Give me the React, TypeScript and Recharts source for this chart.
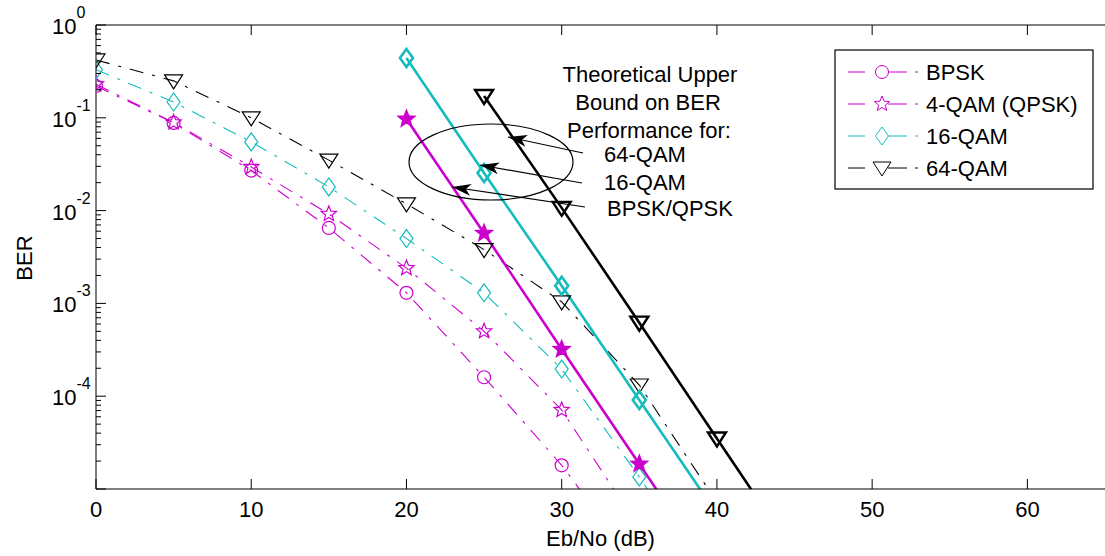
import React from "react"
import { LineChart, Line, XAxis, YAxis } from "recharts"

// Eb/No grid (dB)
const ebno = [0, 5, 10, 15, 20, 25, 30, 35, 40, 45]

// simulated BER (dash-dot with hollow markers)
const bpskSim = [0.22, 0.088, 0.027, 0.0065, 0.0013, 1.6e-4, 1.8e-5, 1.4e-6, null, null]
const qpskSim = [0.23, 0.089, 0.0295, 0.0092, 0.0024, 5.0e-4, 7.1e-5, 3.8e-6, null, null]
const qam16Sim = [0.33, 0.148, 0.055, 0.018, 0.005, 0.0013, 1.96e-4, 1.35e-5, 7e-7, null]
const qam64Sim = [0.42, 0.25, 0.1, 0.035, 0.0118, 0.0038, 0.00104, 1.32e-4, 7.2e-6, null]

// theoretical upper bounds (solid)
const bpskQpskBound = [null, null, null, null, 0.097, 0.0057, 3.2e-4, 1.86e-5, 1.07e-6, null]
const qam16Bound = [null, null, null, null, 0.44, 0.0254, 0.00155, 9.1e-5, 5.4e-6, null]
const qam64Bound = [null, null, null, null, null, 0.172, 0.0107, 6.2e-4, 3.5e-5, 2.0e-6]

const xTicks = [0, 10, 20, 30, 40, 50, 60]
const yDecades = [1e-5, 1e-4, 1e-3, 1e-2, 1e-1, 1]
const yTicks: number[] = []
yDecades.forEach((d, i) => {
  if (i === yDecades.length - 1) yTicks.push(d)
  else for (let k = 1; k <= 9; k++) yTicks.push(k * d)
})

const data = ebno.map((x, i) => ({
  ebno: x,
  bpskSim: bpskSim[i],
  qpskSim: qpskSim[i],
  qam16Sim: qam16Sim[i],
  qam64Sim: qam64Sim[i],
  bpskQpskBound: bpskQpskBound[i],
  qam16Bound: qam16Bound[i],
  qam64Bound: qam64Bound[i],
}))

const MAGENTA = "#cc00cc"
const CYAN = "#14bcbc"
const BLACK = "#000000"
const FONT = "'Liberation Sans', Arial, sans-serif"
const DASHDOT = "14 9 3 9"

function Marker({ shape, cx, cy, color, filled, sw }: any) {
  const fill = filled ? color : "none"
  if (shape === "circle") {
    return <circle cx={cx} cy={cy} r={6.5} stroke={color} strokeWidth={sw} fill={fill} />
  }
  if (shape === "star") {
    const pts: string[] = []
    for (let i = 0; i < 10; i++) {
      const r = i % 2 === 0 ? 8 : 3.5
      const a = -Math.PI / 2 + (i * Math.PI) / 5
      pts.push(`${cx + r * Math.cos(a)},${cy + r * Math.sin(a)}`)
    }
    return <polygon points={pts.join(" ")} stroke={color} strokeWidth={sw} fill={fill} />
  }
  if (shape === "diamond") {
    return (
      <polygon
        points={`${cx},${cy - 9} ${cx + 6.5},${cy} ${cx},${cy + 9} ${cx - 6.5},${cy}`}
        stroke={color}
        strokeWidth={sw}
        fill={fill}
      />
    )
  }
  return (
    <polygon
      points={`${cx - 9},${cy - 6} ${cx + 9},${cy - 6} ${cx},${cy + 8}`}
      stroke={color}
      strokeWidth={sw}
      fill={fill}
    />
  )
}

const makeDot = (shape: string, color: string, filled: boolean, sw: number) => (props: any) => {
  const { cx, cy, value, index } = props
  if (value == null || cx == null || cy == null || value < 1e-5) return <g key={index} />
  return (
    <g key={index}>
      <Marker shape={shape} cx={cx} cy={cy} color={color} filled={filled} sw={sw} />
    </g>
  )
}

function isMajor(v: number) {
  const e = Math.round(Math.log10(v))
  return Math.abs(v / Math.pow(10, e) - 1) < 1e-6
}

function YTickLeft({ x, y, payload }: any) {
  const v = payload.value
  const e = Math.round(Math.log10(v))
  const major = isMajor(v)
  return (
    <g>
      <line x1={x} x2={x + (major ? 10 : 5)} y1={y} y2={y} stroke="#000" />
      {major && e > -5 && (
        <text x={x - 44} y={y + 9} fontSize={22} fill="#000" fontFamily={FONT}>
          10
          <tspan dy={-16} fontSize={16}>
            {e}
          </tspan>
        </text>
      )}
    </g>
  )
}

function YTickRight({ x, y, payload }: any) {
  const major = isMajor(payload.value)
  return <line x1={x} x2={x - (major ? 10 : 5)} y1={y} y2={y} stroke="#000" />
}

function XTickBottom({ x, y, payload }: any) {
  return (
    <g>
      <line x1={x} x2={x} y1={y} y2={y - 10} stroke="#000" />
      <text x={x} y={y + 28} textAnchor="middle" fontSize={22} fill="#000" fontFamily={FONT}>
        {payload.value}
      </text>
    </g>
  )
}

function XTickTop({ x, y }: any) {
  return <line x1={x} x2={x} y1={y} y2={y + 10} stroke="#000" />
}

const legendItems = [
  { label: "BPSK", color: MAGENTA, shape: "circle" },
  { label: "4-QAM (QPSK)", color: MAGENTA, shape: "star" },
  { label: "16-QAM", color: CYAN, shape: "diamond" },
  { label: "64-QAM", color: BLACK, shape: "tri" },
]

function Overlay() {
  const txt = { fontFamily: FONT, fontSize: 22, fill: "#000" }
  return (
    <svg
      width={1105}
      height={556}
      style={{ position: "absolute", left: 0, top: 0, pointerEvents: "none" }}
    >
      <defs>
        <marker
          id="ah"
          markerWidth={19}
          markerHeight={12}
          refX={19}
          refY={6}
          orient="auto"
          markerUnits="userSpaceOnUse"
        >
          <path d="M0,0 L19,6 L0,12 L5,6 z" fill="#000" />
        </marker>
      </defs>

      <text x={32} y={258} textAnchor="middle" transform="rotate(-90, 32, 258)" {...txt}>
        BER
      </text>

      {/* annotation */}
      <text x={650} y={82} textAnchor="middle" {...txt}>Theoretical Upper</text>
      <text x={648} y={110} textAnchor="middle" {...txt}>Bound on BER</text>
      <text x={649} y={138} textAnchor="middle" {...txt}>Performance for:</text>
      <text x={604} y={162} {...txt}>64-QAM</text>
      <text x={604} y={190} {...txt}>16-QAM</text>
      <text x={607} y={216} {...txt}>BPSK/QPSK</text>
      <ellipse cx={491} cy={162} rx={82} ry={38} fill="none" stroke="#000" strokeWidth={1.2} />
      <line x1={583} y1={153} x2={508} y2={137} stroke="#000" strokeWidth={1.2} markerEnd="url(#ah)" />
      <line x1={582} y1={183} x2={480} y2={165} stroke="#000" strokeWidth={1.2} markerEnd="url(#ah)" />
      <line x1={585} y1={207} x2={452} y2={187} stroke="#000" strokeWidth={1.2} markerEnd="url(#ah)" />

      {/* legend */}
      <rect x={835} y={50} width={258} height={139} fill="#fff" stroke="#000" strokeWidth={1.2} />
      {legendItems.map((it, i) => {
        const cy = 72 + i * 32
        return (
          <g key={it.label}>
            <line x1={848} x2={865} y1={cy} y2={cy} stroke={it.color} />
            <line x1={888} x2={907} y1={cy} y2={cy} stroke={it.color} />
            <line x1={915} x2={918} y1={cy} y2={cy} stroke={it.color} />
            <Marker shape={it.shape} cx={882} cy={cy} color={it.color} filled={false} sw={1} />
            <text x={926} y={cy + 8} {...txt}>
              {it.label}
            </text>
          </g>
        )
      })}
    </svg>
  )
}

export default function App() {
  return (
    <div style={{ position: "relative", width: 1105, height: 556, background: "#fff" }}>
      <style>{"body{margin:0}"}</style>
      <LineChart width={1105} height={556} data={data} margin={{ top: 0, right: 0, bottom: 0, left: 0 }}>
        <XAxis
          dataKey="ebno"
          type="number"
          domain={[0, 65]}
          ticks={xTicks}
          interval={0}
          allowDataOverflow
          height={67}
          tickSize={0}
          tickMargin={0}
          tick={<XTickBottom />}
          axisLine={{ stroke: "#000" }}
          label={{ value: "Eb/No (dB)", position: "insideBottom", offset: 10, fontSize: 22, fill: "#000", fontFamily: FONT }}
        />
        <XAxis
          xAxisId="top"
          orientation="top"
          dataKey="ebno"
          type="number"
          domain={[0, 65]}
          ticks={xTicks}
          interval={0}
          allowDataOverflow
          height={25}
          tickSize={0}
          tickMargin={0}
          tick={<XTickTop />}
          axisLine={{ stroke: "#000" }}
        />
        <YAxis
          type="number"
          scale="log"
          domain={[1e-5, 1]}
          ticks={yTicks}
          interval={0}
          allowDataOverflow
          width={96}
          tickSize={0}
          tickMargin={0}
          tick={<YTickLeft />}
          axisLine={{ stroke: "#000" }}
        />
        <YAxis
          yAxisId="right"
          orientation="right"
          type="number"
          scale="log"
          domain={[1e-5, 1]}
          ticks={yTicks}
          interval={0}
          allowDataOverflow
          width={0}
          tickSize={0}
          tickMargin={0}
          tick={<YTickRight />}
          axisLine={{ stroke: "#000" }}
        />

        <Line dataKey="bpskSim" stroke={MAGENTA} strokeWidth={1.1} strokeDasharray={DASHDOT} dot={makeDot("circle", MAGENTA, false, 1.2)} activeDot={false} isAnimationActive={false} />
        <Line dataKey="qpskSim" stroke={MAGENTA} strokeWidth={1.1} strokeDasharray={DASHDOT} dot={makeDot("star", MAGENTA, false, 1.2)} activeDot={false} isAnimationActive={false} />
        <Line dataKey="qam16Sim" stroke={CYAN} strokeWidth={1.1} strokeDasharray={DASHDOT} dot={makeDot("diamond", CYAN, false, 1.2)} activeDot={false} isAnimationActive={false} />
        <Line dataKey="qam64Sim" stroke={BLACK} strokeWidth={1.1} strokeDasharray={DASHDOT} dot={makeDot("tri", BLACK, false, 1.2)} activeDot={false} isAnimationActive={false} />

        <Line dataKey="bpskQpskBound" stroke={MAGENTA} strokeWidth={2.6} dot={makeDot("star", MAGENTA, true, 2)} activeDot={false} isAnimationActive={false} />
        <Line dataKey="qam16Bound" stroke={CYAN} strokeWidth={2.6} dot={makeDot("diamond", CYAN, false, 2.6)} activeDot={false} isAnimationActive={false} />
        <Line dataKey="qam64Bound" stroke={BLACK} strokeWidth={2.6} dot={makeDot("tri", BLACK, false, 2.4)} activeDot={false} isAnimationActive={false} />
      </LineChart>
      <Overlay />
    </div>
  )
}
